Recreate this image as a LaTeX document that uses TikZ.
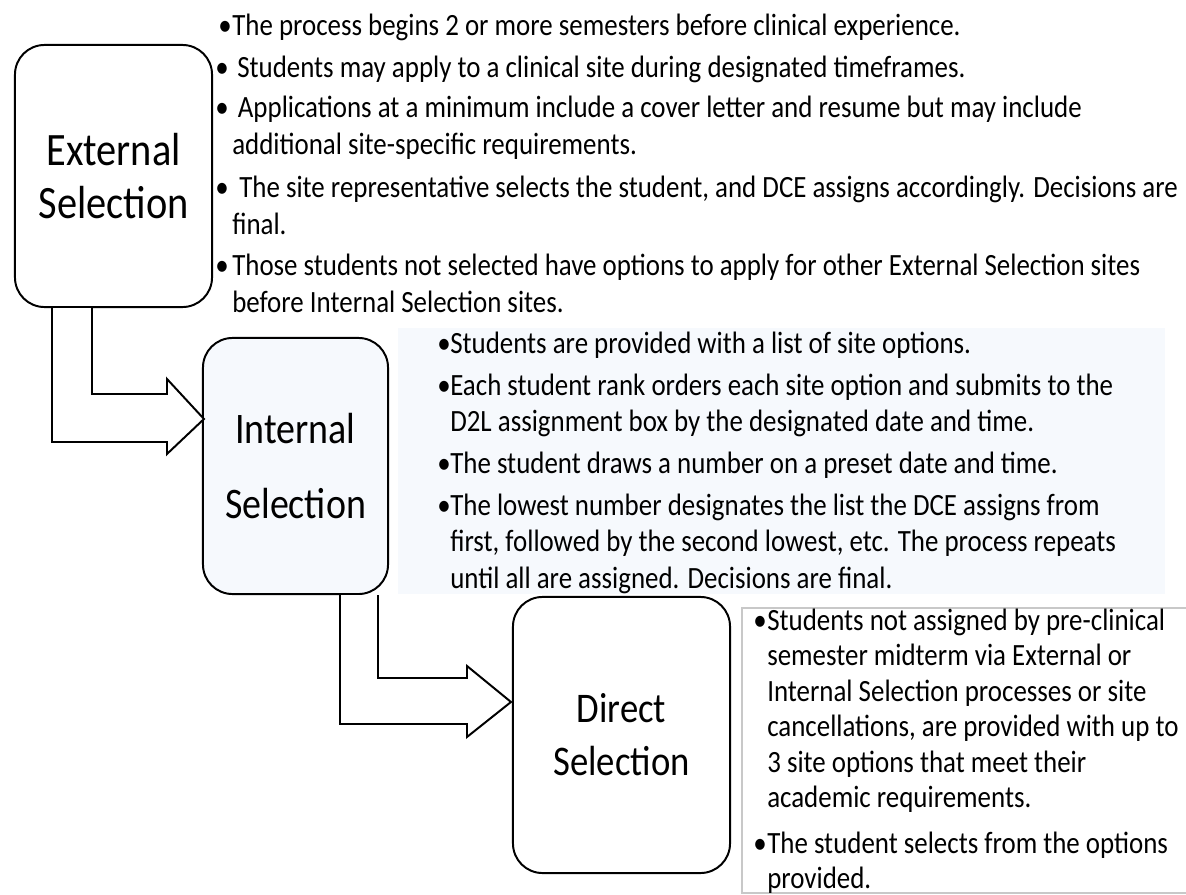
\documentclass[tikz,border=0pt]{standalone}
\usepackage{fontspec}
\setmainfont{Carlito}[FakeStretch=0.87]
\usetikzlibrary{calc,positioning}
\definecolor{paleblue}{RGB}{246,249,253}
\definecolor{framegray}{RGB}{200,200,200}
\newcommand{\blines}[1]{\vtop{\halign{##\hfil\cr#1\crcr}}}

\tikzset{
  stage/.style={draw,line width=1.4pt,rounded corners=21pt,align=center,inner sep=0pt},
  bul/.style={anchor=base west,inner sep=0pt},
  txt/.style={anchor=base west,inner sep=0pt},
  bendarrow/.style={draw,line width=1.4pt,fill=white,line join=miter}
}

\begin{document}
\begin{tikzpicture}[x=0.025cm,y=-0.025cm]
\useasboundingbox (0,0) rectangle (1186,895);

% light backgrounds
\fill[paleblue] (398,328) rectangle (1165,594);
\draw[framegray,line width=0.9pt] (742,608) rectangle (1195,893);

% the three stages
\node[stage,minimum width=4.925cm,minimum height=6.55cm,
      font=\fontsize{33}{38}\selectfont] (ext) at (113.5,176) {External\\Selection};
\node[stage,fill=paleblue,minimum width=4.625cm,minimum height=6.4cm,
      font=\fontsize{31}{53}\selectfont] (intl) at (295.5,466) {Internal\\Selection};
\node[stage,minimum width=5.425cm,minimum height=6.9cm,
      font=\fontsize{30}{37.7}\selectfont] (dir) at (621.5,735) {Direct\\Selection};

% bent arrows
\coordinate (a1tip) at ($(intl.north west)+(2,82)$);
\draw[bendarrow] ($(ext.south west)+(38,0)$) |- ($(a1tip)+(-37,23)$) -- ++(0,12)
  -- (a1tip) -- ($(a1tip)+(-37,-40)$) -- ++(0,15) -| ($(ext.south west)+(78,0)$);
\coordinate (a2tip) at ($(dir.north west)+(-1,106)$);
\draw[bendarrow] ($(intl.south west)+(138,0)$) |- ($(a2tip)+(-44,22)$) -- ++(0,13)
  -- (a2tip) -- ($(a2tip)+(-44,-36)$) -- ++(0,12) -| ($(intl.south west)+(176,0)$);

% external selection
\begin{scope}[every node/.append style={font=\fontsize{22}{27}\selectfont}]
\node[bul] (e1b) at (218,35) {•};
\node[txt] (e1) at (232,35) {The process begins 2 or more semesters before clinical experience.};
\node[bul] (e2b) at (215,77) {•};
\node[txt] (e2) at (237,77) {Students may apply to a clinical site during designated timeframes.};
\node[bul] (e3b) at (215,117) {•};
\node[txt] (e3) at (232,117) {\blines{\hspace{4pt}Applications at a minimum include a cover letter and resume but may include\cr
  additional site-specific requirements.}};
\node[bul] (e4b) at (215,197) {•};
\node[txt] (e4) at (232,197) {\blines{\hspace{5pt}The site representative selects the student, and DCE assigns accordingly. Decisions are\cr
  final.}};
\node[bul] (e5b) at (215,275) {•};
\node[txt] (e5) at (232,275) {\blines{Those students not selected have options to apply for other External Selection sites\cr
  before Internal Selection sites.}};
\end{scope}

% internal selection
\begin{scope}[every node/.append style={font=\fontsize{22}{26.3}\selectfont}]
\node[bul] (i1b) at (437,353) {•};
\node[txt] (i1) at (450,353) {Students are provided with a list of site options.};
\node[bul] (i2b) at (437,395) {•};
\node[txt] (i2) at (450,395) {\blines{Each student rank orders each site option and submits to the\cr
  D2L assignment box by the designated date and time.}};
\node[bul] (i3b) at (437,473) {•};
\node[txt] (i3) at (450,473) {The student draws a number on a preset date and time.};
\node[bul] (i4b) at (437,515) {•};
\node[txt] (i4) at (450,515) {\blines{The lowest number designates the list the DCE assigns from\cr
  first, followed by the second lowest, etc. The process repeats\cr
  until all are assigned. Decisions are final.}};
\end{scope}

% direct selection
\begin{scope}[every node/.append style={font=\fontsize{22}{25.3}\selectfont}]
\node[bul] (d1b) at (753,630) {•};
\node[txt] (d1) at (767,630) {\blines{Students not assigned by pre-clinical\cr
  semester midterm via External or\cr
  Internal Selection processes or site\cr
  cancellations, are provided with up to\cr
  3 site options that meet their\cr
  academic requirements.}};
\node[bul] (d2b) at (753,853) {•};
\node[txt] (d2) at (767,853) {\blines{The student selects from the options\cr
  provided.}};
\end{scope}
\end{tikzpicture}
\end{document}
